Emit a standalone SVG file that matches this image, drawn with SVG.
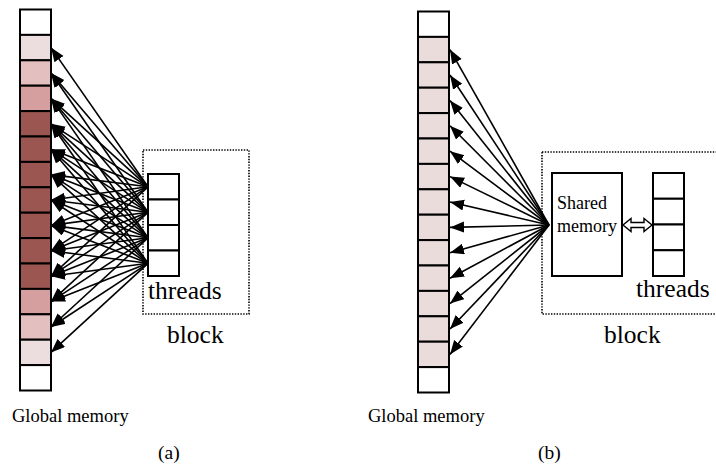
<svg xmlns="http://www.w3.org/2000/svg" width="716" height="465" viewBox="0 0 716 465">
  <style>
    .cell { stroke: #000; stroke-width: 2; }
    .c0 { fill: #ffffff; }
    .c1 { fill: #ecdede; }
    .c2 { fill: #e3bfbf; }
    .c3 { fill: #d69f9f; }
    .c4 { fill: #9b5652; }
    .cb { fill: #ebdcdc; }
    .box { fill: #fff; stroke: #000; stroke-width: 2; }
    .dotted { fill: none; stroke: #000; stroke-width: 1.6; stroke-dasharray: 1.4 1.4; }
    .wire { stroke: #000; stroke-width: 1.6; fill: none; marker-end: url(#head); }
    .lbl { fill: #000; }
    .big { font-size: 25.5px; }
    .mid { font-size: 18.5px; }
    .sm { font-size: 18px; }
    .cap { font-size: 19.5px; }
  </style>
  <defs>
    <marker id="head" markerUnits="userSpaceOnUse" markerWidth="15" markerHeight="12" refX="14" refY="5.5" orient="auto">
      <path d="M0,0 L14,5.5 L0,11 z" fill="#000"/>
    </marker>
  </defs>

  <!-- (a) global memory column, shaded by how many threads touch each cell -->
  <g id="global-a">
    <rect class="cell c0" x="20" y="9.5" width="31" height="25.4"/>
    <rect class="cell c1" x="20" y="34.9" width="31" height="25.4"/>
    <rect class="cell c2" x="20" y="60.3" width="31" height="25.4"/>
    <rect class="cell c3" x="20" y="85.7" width="31" height="25.4"/>
    <rect class="cell c4" x="20" y="111.1" width="31" height="25.4"/>
    <rect class="cell c4" x="20" y="136.5" width="31" height="25.4"/>
    <rect class="cell c4" x="20" y="161.9" width="31" height="25.4"/>
    <rect class="cell c4" x="20" y="187.3" width="31" height="25.4"/>
    <rect class="cell c4" x="20" y="212.7" width="31" height="25.4"/>
    <rect class="cell c4" x="20" y="238.1" width="31" height="25.4"/>
    <rect class="cell c4" x="20" y="263.5" width="31" height="25.4"/>
    <rect class="cell c3" x="20" y="288.9" width="31" height="25.4"/>
    <rect class="cell c2" x="20" y="314.3" width="31" height="25.4"/>
    <rect class="cell c1" x="20" y="339.7" width="31" height="25.4"/>
    <rect class="cell c0" x="20" y="365.1" width="31" height="25.4"/>
    <text class="lbl mid" font-family="Liberation Serif, Tinos, Times New Roman, DejaVu Serif, serif" x="12" y="422">Global memory</text>
  </g>

  <g id="block-a">
    <rect class="dotted" x="143" y="150" width="106" height="164"/>
    <text class="lbl big" font-family="Liberation Serif, Tinos, Times New Roman, DejaVu Serif, serif" x="167" y="343">block</text>
  </g>

  <g id="threads-a">
    <rect class="box" x="148" y="174" width="31" height="25.5"/>
    <rect class="box" x="148" y="199.5" width="31" height="25.5"/>
    <rect class="box" x="148" y="225" width="31" height="25.5"/>
    <rect class="box" x="148" y="250.5" width="31" height="25.5"/>
    <text class="lbl big" font-family="Liberation Serif, Tinos, Times New Roman, DejaVu Serif, serif" x="148" y="299">threads</text>
  </g>

  <!-- (a) each thread t reads cells t+1 .. t+10 -->
  <g id="connectors-a">
    <line class="wire" x1="148" y1="186.8" x2="51" y2="47.6"/>
    <line class="wire" x1="148" y1="186.8" x2="51" y2="73.0"/>
    <line class="wire" x1="148" y1="186.8" x2="51" y2="98.4"/>
    <line class="wire" x1="148" y1="186.8" x2="51" y2="123.8"/>
    <line class="wire" x1="148" y1="186.8" x2="51" y2="149.2"/>
    <line class="wire" x1="148" y1="186.8" x2="51" y2="174.6"/>
    <line class="wire" x1="148" y1="186.8" x2="51" y2="200.0"/>
    <line class="wire" x1="148" y1="186.8" x2="51" y2="225.4"/>
    <line class="wire" x1="148" y1="186.8" x2="51" y2="250.8"/>
    <line class="wire" x1="148" y1="186.8" x2="51" y2="276.2"/>

    <line class="wire" x1="148" y1="212.3" x2="51" y2="73.0"/>
    <line class="wire" x1="148" y1="212.3" x2="51" y2="98.4"/>
    <line class="wire" x1="148" y1="212.3" x2="51" y2="123.8"/>
    <line class="wire" x1="148" y1="212.3" x2="51" y2="149.2"/>
    <line class="wire" x1="148" y1="212.3" x2="51" y2="174.6"/>
    <line class="wire" x1="148" y1="212.3" x2="51" y2="200.0"/>
    <line class="wire" x1="148" y1="212.3" x2="51" y2="225.4"/>
    <line class="wire" x1="148" y1="212.3" x2="51" y2="250.8"/>
    <line class="wire" x1="148" y1="212.3" x2="51" y2="276.2"/>
    <line class="wire" x1="148" y1="212.3" x2="51" y2="301.6"/>

    <line class="wire" x1="148" y1="237.8" x2="51" y2="98.4"/>
    <line class="wire" x1="148" y1="237.8" x2="51" y2="123.8"/>
    <line class="wire" x1="148" y1="237.8" x2="51" y2="149.2"/>
    <line class="wire" x1="148" y1="237.8" x2="51" y2="174.6"/>
    <line class="wire" x1="148" y1="237.8" x2="51" y2="200.0"/>
    <line class="wire" x1="148" y1="237.8" x2="51" y2="225.4"/>
    <line class="wire" x1="148" y1="237.8" x2="51" y2="250.8"/>
    <line class="wire" x1="148" y1="237.8" x2="51" y2="276.2"/>
    <line class="wire" x1="148" y1="237.8" x2="51" y2="301.6"/>
    <line class="wire" x1="148" y1="237.8" x2="51" y2="327.0"/>

    <line class="wire" x1="148" y1="263.3" x2="51" y2="123.8"/>
    <line class="wire" x1="148" y1="263.3" x2="51" y2="149.2"/>
    <line class="wire" x1="148" y1="263.3" x2="51" y2="174.6"/>
    <line class="wire" x1="148" y1="263.3" x2="51" y2="200.0"/>
    <line class="wire" x1="148" y1="263.3" x2="51" y2="225.4"/>
    <line class="wire" x1="148" y1="263.3" x2="51" y2="250.8"/>
    <line class="wire" x1="148" y1="263.3" x2="51" y2="276.2"/>
    <line class="wire" x1="148" y1="263.3" x2="51" y2="301.6"/>
    <line class="wire" x1="148" y1="263.3" x2="51" y2="327.0"/>
    <line class="wire" x1="148" y1="263.3" x2="51" y2="352.4"/>
  </g>

  <text class="lbl cap" font-family="Liberation Serif, Tinos, Times New Roman, DejaVu Serif, serif" x="158" y="459">(a)</text>

  <!-- (b) global memory column read through shared memory -->
  <g id="global-b">
    <rect class="cell c0" x="418" y="11.5" width="31" height="25.4"/>
    <rect class="cell cb" x="418" y="36.9" width="31" height="25.4"/>
    <rect class="cell cb" x="418" y="62.3" width="31" height="25.4"/>
    <rect class="cell cb" x="418" y="87.7" width="31" height="25.4"/>
    <rect class="cell cb" x="418" y="113.1" width="31" height="25.4"/>
    <rect class="cell cb" x="418" y="138.5" width="31" height="25.4"/>
    <rect class="cell cb" x="418" y="163.9" width="31" height="25.4"/>
    <rect class="cell cb" x="418" y="189.3" width="31" height="25.4"/>
    <rect class="cell cb" x="418" y="214.7" width="31" height="25.4"/>
    <rect class="cell cb" x="418" y="240.1" width="31" height="25.4"/>
    <rect class="cell cb" x="418" y="265.5" width="31" height="25.4"/>
    <rect class="cell cb" x="418" y="290.9" width="31" height="25.4"/>
    <rect class="cell cb" x="418" y="316.3" width="31" height="25.4"/>
    <rect class="cell cb" x="418" y="341.7" width="31" height="25.4"/>
    <rect class="cell c0" x="418" y="367.1" width="31" height="25.4"/>
    <text class="lbl mid" font-family="Liberation Serif, Tinos, Times New Roman, DejaVu Serif, serif" x="368" y="422">Global memory</text>
  </g>

  <g id="block-b">
    <rect class="dotted" x="542" y="152" width="200" height="162"/>
    <text class="lbl big" font-family="Liberation Serif, Tinos, Times New Roman, DejaVu Serif, serif" x="604" y="343">block</text>
  </g>

  <g id="shared-b">
    <rect class="box" x="552" y="173" width="70" height="103"/>
    <text class="lbl sm" font-family="Liberation Serif, Tinos, Times New Roman, DejaVu Serif, serif" x="557" y="209">Shared</text>
    <text class="lbl sm" font-family="Liberation Serif, Tinos, Times New Roman, DejaVu Serif, serif" x="557" y="232">memory</text>
  </g>

  <g id="threads-b">
    <rect class="box" x="653" y="173" width="31" height="25.75"/>
    <rect class="box" x="653" y="198.75" width="31" height="25.75"/>
    <rect class="box" x="653" y="224.5" width="31" height="25.75"/>
    <rect class="box" x="653" y="250.25" width="31" height="25.75"/>
    <text class="lbl big" font-family="Liberation Serif, Tinos, Times New Roman, DejaVu Serif, serif" x="636" y="297">threads</text>
  </g>

  <g id="connectors-b">
    <line class="wire" x1="549" y1="225" x2="450" y2="49.6"/>
    <line class="wire" x1="549" y1="225" x2="450" y2="75.0"/>
    <line class="wire" x1="549" y1="225" x2="450" y2="100.4"/>
    <line class="wire" x1="549" y1="225" x2="450" y2="125.8"/>
    <line class="wire" x1="549" y1="225" x2="450" y2="151.2"/>
    <line class="wire" x1="549" y1="225" x2="450" y2="176.6"/>
    <line class="wire" x1="549" y1="225" x2="450" y2="202.0"/>
    <line class="wire" x1="549" y1="225" x2="450" y2="227.4"/>
    <line class="wire" x1="549" y1="225" x2="450" y2="252.8"/>
    <line class="wire" x1="549" y1="225" x2="450" y2="278.2"/>
    <line class="wire" x1="549" y1="225" x2="450" y2="303.6"/>
    <line class="wire" x1="549" y1="225" x2="450" y2="329.0"/>
    <line class="wire" x1="549" y1="225" x2="450" y2="354.4"/>
    <!-- hollow two-way arrow between shared memory and threads -->
    <path d="M623,225 L631,218.5 L631,222.5 L644,222.5 L644,218.5 L652,225 L644,231.5 L644,227.5 L631,227.5 L631,231.5 z" fill="#fff" stroke="#000" stroke-width="1.4"/>
  </g>

  <text class="lbl cap" font-family="Liberation Serif, Tinos, Times New Roman, DejaVu Serif, serif" x="538" y="459">(b)</text>
</svg>
